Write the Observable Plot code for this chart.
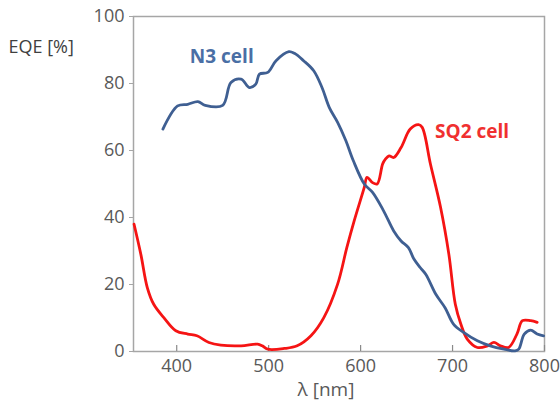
<!DOCTYPE html>
<html>
<head>
<meta charset="utf-8">
<script src="https://cdn.jsdelivr.net/npm/d3@7"></script>
<script src="https://cdn.jsdelivr.net/npm/@observablehq/plot@0.6"></script>
<style>
  html, body { margin: 0; padding: 0; background: #fff; }
  #chart svg { display: block; }
</style>
</head>
<body>
<div id="chart"></div>
<script>
// N3 cell EQE spectrum
const n3Wavelength = [385, 401, 412, 423, 431, 450, 459, 470, 479, 486, 490, 499, 508, 522, 528, 538, 549, 558, 566, 575, 584, 592, 604, 613, 625, 636, 644, 652, 658, 665, 671, 682, 692, 701, 712, 727, 741, 756, 768, 772, 778, 785, 792, 799];
const n3EQE =        [66.4, 73.3, 73.8, 74.6, 73.5, 73.5, 80.3, 81.3, 78.8, 79.8, 82.8, 83.3, 86.8, 89.5, 89, 86.8, 83.8, 78.8, 72.8, 68.4, 62.9, 57, 50, 47.5, 42, 36, 33, 31, 27.6, 25, 23, 17, 13, 8.2, 5.7, 3.2, 1.7, 0.7, 0.2, 0.7, 5.2, 6.4, 5.2, 4.7];

// SQ2 cell EQE spectrum
const sq2Wavelength = [353.6, 361, 368, 375, 386, 399, 412, 422, 435, 448, 470, 488, 493, 499, 517, 531, 546, 560, 575, 585, 593, 604, 607, 613, 618, 624, 627, 631, 636, 644, 654, 663, 667, 676, 687, 696, 703, 709, 716, 727, 738, 745, 752, 761, 770, 776, 785, 792];
const sq2EQE =        [38, 29, 19.1, 14.1, 10.1, 6.2, 5.2, 4.7, 2.7, 1.9, 1.7, 2.2, 1.7, 0.7, 0.9, 1.7, 4.7, 10.1, 20.1, 31, 39, 49, 52, 50.4, 50, 56, 57.4, 58.4, 57.9, 60.9, 66.4, 67.7, 66.9, 55.9, 43, 29, 14.1, 8.2, 3.7, 1.2, 1.7, 2.7, 1.7, 1.2, 5.2, 9.2, 9.2, 8.7];

const xTicks = [400, 500, 600, 700, 800];
const yTicks = [0, 20, 40, 60, 80, 100];
const seriesLabels = ["N3 cell", "SQ2 cell"];
const labelPos = [{x: 449, y: 88}, {x: 681, y: 65.6}];
const xAxisTitle = "λ [nm]";
const yAxisTitle = "EQE [%]";

const n3 = n3Wavelength.map((w, i) => ({w, v: n3EQE[i]}));
const sq2 = sq2Wavelength.map((w, i) => ({w, v: sq2EQE[i]}));

const font = "'Open Sans', sans-serif";
const blue = "#3f5f92";
const red = "#f51414";
const grey = "#595959";

const chart = Plot.plot({
  width: 560,
  height: 402,
  marginLeft: 133,
  marginRight: 16,
  marginTop: 16,
  marginBottom: 51,
  style: {fontFamily: font, background: "#fff"},
  x: {domain: [353, 800]},
  y: {domain: [0, 100]},
  marks: [
    Plot.frame({stroke: "#a6a6a6", strokeWidth: 1.5}),
    Plot.axisY({ticks: yTicks, tickSize: 4, tickPadding: 5, fontSize: 18, color: grey, stroke: "#a6a6a6", label: null}),
    Plot.axisX({ticks: xTicks, tickSize: 0, tickPadding: 8, fontSize: 18, color: grey, label: null}),
    Plot.ruleX(xTicks, {y1: 0, y2: 1.8, stroke: "#8a8a8a", strokeWidth: 1.2}),
    Plot.line(sq2, {x: "w", y: "v", stroke: red, strokeWidth: 2.8, curve: "catmull-rom"}),
    Plot.line(n3, {x: "w", y: "v", stroke: blue, strokeWidth: 2.8, curve: "catmull-rom"}),
    Plot.text([seriesLabels[0]], {x: labelPos[0].x, y: labelPos[0].y, text: d => d, fill: "#4a6fa5", fontWeight: "bold", fontSize: 19, textAnchor: "middle"}),
    Plot.text([seriesLabels[1]], {x: labelPos[1].x, y: labelPos[1].y, text: d => d, fill: "#f03030", fontWeight: "bold", fontSize: 19, textAnchor: "start"}),
    Plot.text([yAxisTitle], {frameAnchor: "top-left", text: d => d, dx: -125, dy: 31, lineAnchor: "middle", textAnchor: "start", fontSize: 18, fill: "#404040"}),
    Plot.text([xAxisTitle], {frameAnchor: "bottom", text: d => d, dx: -13, dy: 44, lineAnchor: "bottom", textAnchor: "middle", fontSize: 19, fill: grey})
  ]
});
document.getElementById("chart").appendChild(chart);
</script>
</body>
</html>
